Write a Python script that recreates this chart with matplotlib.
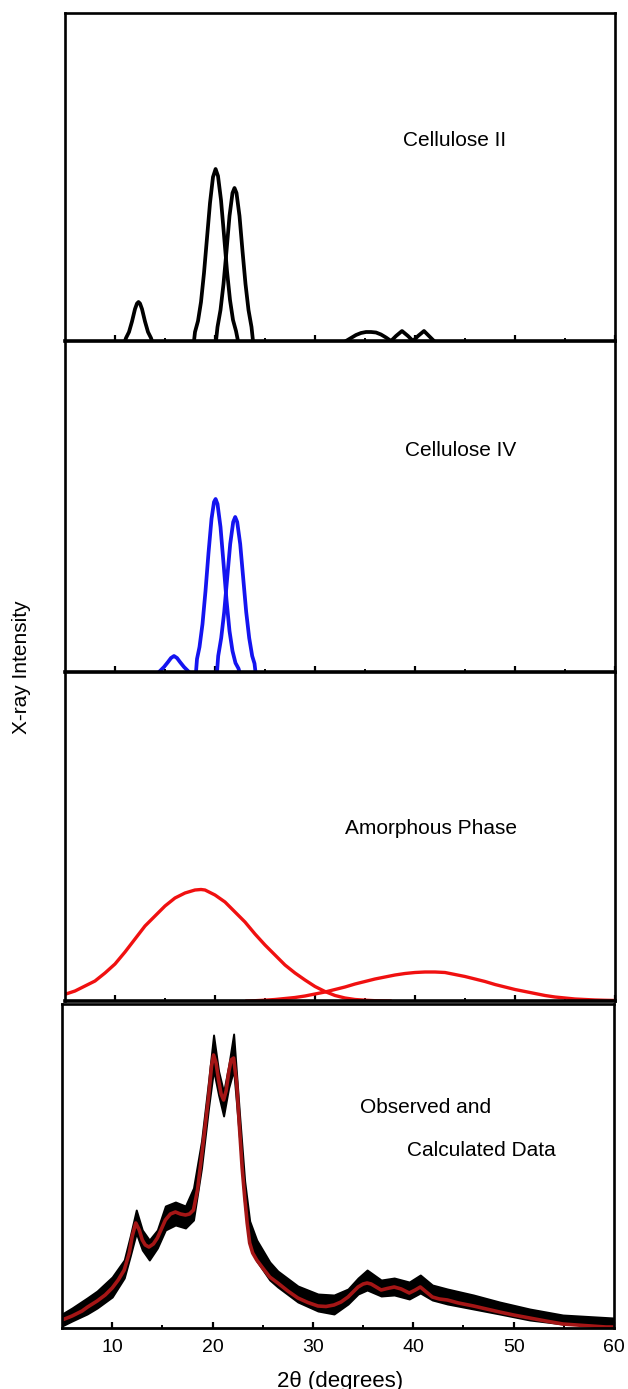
import matplotlib
matplotlib.use('Agg')
import matplotlib.pyplot as plt
from matplotlib.ticker import FixedLocator

plt.rcParams['font.family'] = ['Liberation Sans', 'DejaVu Sans']

# ---------------- data (2theta in degrees, intensity in arbitrary units) ----------------
# Cellulose II component peaks
c2_p1_x = [11.0, 11.1, 11.4, 11.7, 12.0, 12.2, 12.35, 12.5, 12.7, 13.0, 13.3, 13.6, 13.7]
c2_p1_y = [0, 3, 9, 19.5, 32, 37.5, 39, 37.5, 32, 19.5, 9, 3, 0]
c2_p2_x = [17.9, 18.0, 18.3, 18.6, 18.9, 19.2, 19.5, 19.8, 20.06, 20.3, 20.6, 20.9, 21.2, 21.5, 21.8, 22.1, 22.3]
c2_p2_y = [0, 9, 20, 39, 68, 103, 138, 164, 172, 165, 141, 106, 70, 41, 21, 10, 0]
c2_p3_x = [20.1, 20.25, 20.55, 20.85, 21.15, 21.45, 21.75, 21.95, 22.15, 22.45, 22.75, 23.05, 23.35, 23.65, 23.8]
c2_p3_y = [0, 14, 31, 57, 90, 125, 148, 153, 148, 125, 90, 57, 31, 14, 0]
c2_p4_x = [33.1, 33.6, 34.1, 34.6, 35.1, 35.6, 36.1, 36.6, 37.1, 37.6]
c2_p4_y = [0, 3, 6, 8, 9, 9, 8.5, 6.5, 3.5, 0]
c2_p5_x = [37.6, 38.1, 38.7, 39.3, 39.8]
c2_p5_y = [0, 5, 10, 5, 0]
c2_p6_x = [39.8, 40.3, 40.9, 41.4, 41.9]
c2_p6_y = [0, 5, 10, 5, 0]

# Cellulose IV component peaks
c4_p1_x = [14.4, 14.5, 14.9, 15.3, 15.6, 15.9, 16.2, 16.5, 16.9, 17.3, 17.4]
c4_p1_y = [0, 1, 5, 10, 14, 16, 14, 10, 5, 1, 0]
c4_p2_x = [18.1, 18.2, 18.45, 18.75, 19.05, 19.35, 19.65, 19.9, 20.06, 20.25, 20.55, 20.85, 21.15, 21.45, 21.75, 22.05, 22.35, 22.45]
c4_p2_y = [0, 13, 25, 48, 81, 119, 153, 170, 173, 168, 145, 109, 72, 41, 21, 9, 3.5, 0]
c4_p3_x = [20.2, 20.32, 20.62, 20.92, 21.22, 21.52, 21.82, 22.02, 22.22, 22.52, 22.82, 23.12, 23.42, 23.72, 23.95, 24.05]
c4_p3_y = [0, 16, 34, 60, 94, 128, 150, 155, 150, 128, 94, 60, 34, 16, 8.5, 0]

# Amorphous phase components
am1_x = [5, 6, 7, 8, 9, 10, 11, 12, 13, 14, 15, 16, 17, 18, 18.6, 19, 20, 21, 22, 23, 24, 25,
         26, 27, 28, 29, 30, 31, 32, 33, 34, 35, 36, 37.5]
am1_y = [6.7, 10, 15, 20, 28, 37, 49, 62, 75, 85, 95, 103, 108, 111, 111.5, 111, 106, 99, 89, 79, 67, 56,
         46, 36, 28, 21, 14.5, 9.5, 5.5, 3, 1.5, 0.8, 0.3, 0]
am2_x = [23.2, 24, 25, 26, 27, 28, 29, 30, 31, 32, 33, 34, 35, 36, 37, 38, 39, 40, 41, 42, 43, 44,
         45, 46, 47, 48, 49, 50, 51, 52, 53, 54, 55, 56, 57, 58, 59, 60]
am2_y = [0, 0.3, 0.8, 1.5, 2.5, 3.5, 5, 7, 9, 11.5, 14, 17, 19.5, 22, 24, 26, 27.5, 28.5, 29, 29, 28.5, 26.5,
         24.5, 22, 19.5, 16.5, 14, 11.5, 9.5, 7.5, 5.5, 4, 3, 2, 1.5, 1, 0.7, 0.5]

# Calculated pattern
calc_x = [5.0, 6.0, 7.0, 7.55, 8.5, 9.3, 10.0, 10.6, 11.2, 11.7, 12.0, 12.35, 12.7, 13.0, 13.3, 13.66,
          14.1, 14.5, 14.9, 15.3, 15.8, 16.3, 16.8, 17.3, 17.7, 18.1, 18.5, 18.9, 19.3, 19.6, 19.9, 20.1,
          20.35, 20.6, 20.85, 21.1, 21.35, 21.6, 21.85, 22.1, 22.4, 22.7, 22.95, 23.2, 23.45, 23.7, 24.0,
          24.4, 25.0, 25.7, 26.5, 27.5, 28.5, 29.5, 30.5, 31.3, 32.1, 32.8, 33.5, 34.0, 34.5, 35.0, 35.4,
          35.8, 36.3, 36.8, 37.4, 38.1, 38.8, 39.6, 40.2, 40.7, 41.3, 41.9, 42.6, 43.4, 44.5, 46.0, 47.3,
          48.6, 50.0, 51.6, 53.2, 54.9, 57.0, 59.2, 60.0]
calc_y = [8, 12, 17, 21, 27, 33, 40, 48, 58, 75, 92, 105, 98, 88, 83, 81,
          84, 90, 99, 108, 114, 116, 114, 113, 114, 118, 138, 171, 205, 231, 262, 273,
          265, 248, 234, 228, 237, 255, 268, 270, 245, 198, 160, 131, 105, 85, 75,
          68, 60, 51, 45, 37, 30, 25.5, 22, 21.5, 23, 26, 31, 36, 41, 44, 45,
          44, 41, 38, 39.5, 41, 39, 35, 38, 41, 36, 31, 29, 28, 25, 22, 19,
          16, 13, 10, 7, 4, 2.5, 1, 1]

# Observed pattern (lower / upper edge of the noisy trace)
obs_x = [5.0, 6.0, 7.5, 8.5, 10.0, 11.2, 11.8, 12.4, 13.0, 13.7, 14.5, 15.3, 16.3, 17.3, 18.1, 18.9,
         19.6, 20.1, 20.6, 21.1, 21.6, 22.1, 22.7, 23.2, 23.7, 24.4, 25.7, 26.5, 28.5, 30.5, 32.1, 33.5,
         34.5, 35.4, 36.8, 38.1, 39.6, 40.7, 41.9, 43.4, 46.0, 48.6, 51.6, 54.9, 60.0]
obs_lo = [2, 7, 14, 20, 31, 50, 72, 95, 78, 68, 80, 98, 103, 100, 108, 160,
          220, 258, 233, 212, 240, 258, 188, 123, 85, 67, 48, 41, 26, 17, 14, 24,
          34, 38, 32, 33, 29, 35, 28, 24, 19, 14, 8, 4, 2]
obs_hi = [14, 20, 30, 37, 51, 68, 92, 118, 98, 88, 98, 122, 126, 122, 140, 187,
          247, 293, 257, 236, 262, 294, 212, 147, 107, 88, 66, 57, 42, 34, 33, 39,
          50, 58, 48, 50, 46, 53, 43, 39, 33, 26, 19, 13, 10]

xticks_major = [10, 20, 30, 40, 50, 60]
xticks_minor = [15, 25, 35, 45, 55]

# ---------------- figure ----------------
W, H = 628, 1389
fig = plt.figure(figsize=(W / 100, H / 100), dpi=100)


def frac_axes(left, top, right, bottom):
    return fig.add_axes([left / W, 1 - bottom / H, (right - left) / W, (bottom - top) / H])


def style(ax, ymax, labels=False, bottom_lw=2.6):
    ax.set_xlim(5, 60)
    ax.set_ylim(0, ymax)
    ax.xaxis.set_major_locator(FixedLocator(xticks_major))
    ax.xaxis.set_minor_locator(FixedLocator(xticks_minor))
    ax.tick_params(axis='x', which='major', direction='in', length=4.5, width=1.6,
                   top=False, bottom=True, labelbottom=labels, labelsize=14, pad=8)
    ax.tick_params(axis='x', which='minor', direction='in', length=2.2, width=1.4,
                   top=False, bottom=True)
    ax.tick_params(axis='y', left=False, right=False, labelleft=False)
    for s in ax.spines.values():
        s.set_linewidth(1.9)
    ax.spines['bottom'].set_linewidth(bottom_lw)


ax1 = frac_axes(65, 13, 615, 341)
ax2 = frac_axes(65, 341, 615, 672)
ax3 = frac_axes(65, 672, 615, 1001)
ax4 = frac_axes(62, 1004, 614, 1328)

style(ax1, 328)
style(ax2, 331)
style(ax3, 329)
style(ax4, 324, labels=True, bottom_lw=2.0)

lw = 2.7
for xs, ys in [(c2_p1_x, c2_p1_y), (c2_p2_x, c2_p2_y), (c2_p3_x, c2_p3_y),
               (c2_p4_x, c2_p4_y), (c2_p5_x, c2_p5_y), (c2_p6_x, c2_p6_y)]:
    ax1.plot(xs, ys, color='black', lw=lw)
ax1.text(0.709, 0.61, 'Cellulose II', transform=ax1.transAxes, ha='center', va='center', fontsize=15)

for xs, ys in [(c4_p1_x, c4_p1_y), (c4_p2_x, c4_p2_y), (c4_p3_x, c4_p3_y)]:
    ax2.plot(xs, ys, color='#1414f0', lw=lw)
ax2.text(0.72, 0.668, 'Cellulose IV', transform=ax2.transAxes, ha='center', va='center', fontsize=15)

ax3.plot(am1_x, am1_y, color='#f01010', lw=2.4)
ax3.plot(am2_x, am2_y, color='#f01010', lw=2.4)
ax3.text(0.666, 0.523, 'Amorphous Phase', transform=ax3.transAxes, ha='center', va='center', fontsize=15)

ax4.fill_between(obs_x, obs_lo, obs_hi, color='black', lw=1.4, edgecolor='black')
ax4.plot(calc_x, calc_y, color='#a51616', lw=2.6)
ax4.text(0.658, 0.682, 'Observed and', transform=ax4.transAxes, ha='center', va='center', fontsize=15)
ax4.text(0.759, 0.549, 'Calculated Data', transform=ax4.transAxes, ha='center', va='center', fontsize=15)

fig.text(340 / W, 1 - 1381 / H, '2θ (degrees)', ha='center', va='center', fontsize=16)
fig.text(22 / W, 1 - 667 / H, 'X-ray Intensity', ha='center', va='center', rotation=90, fontsize=15)

fig.savefig('out.png', dpi=100)
